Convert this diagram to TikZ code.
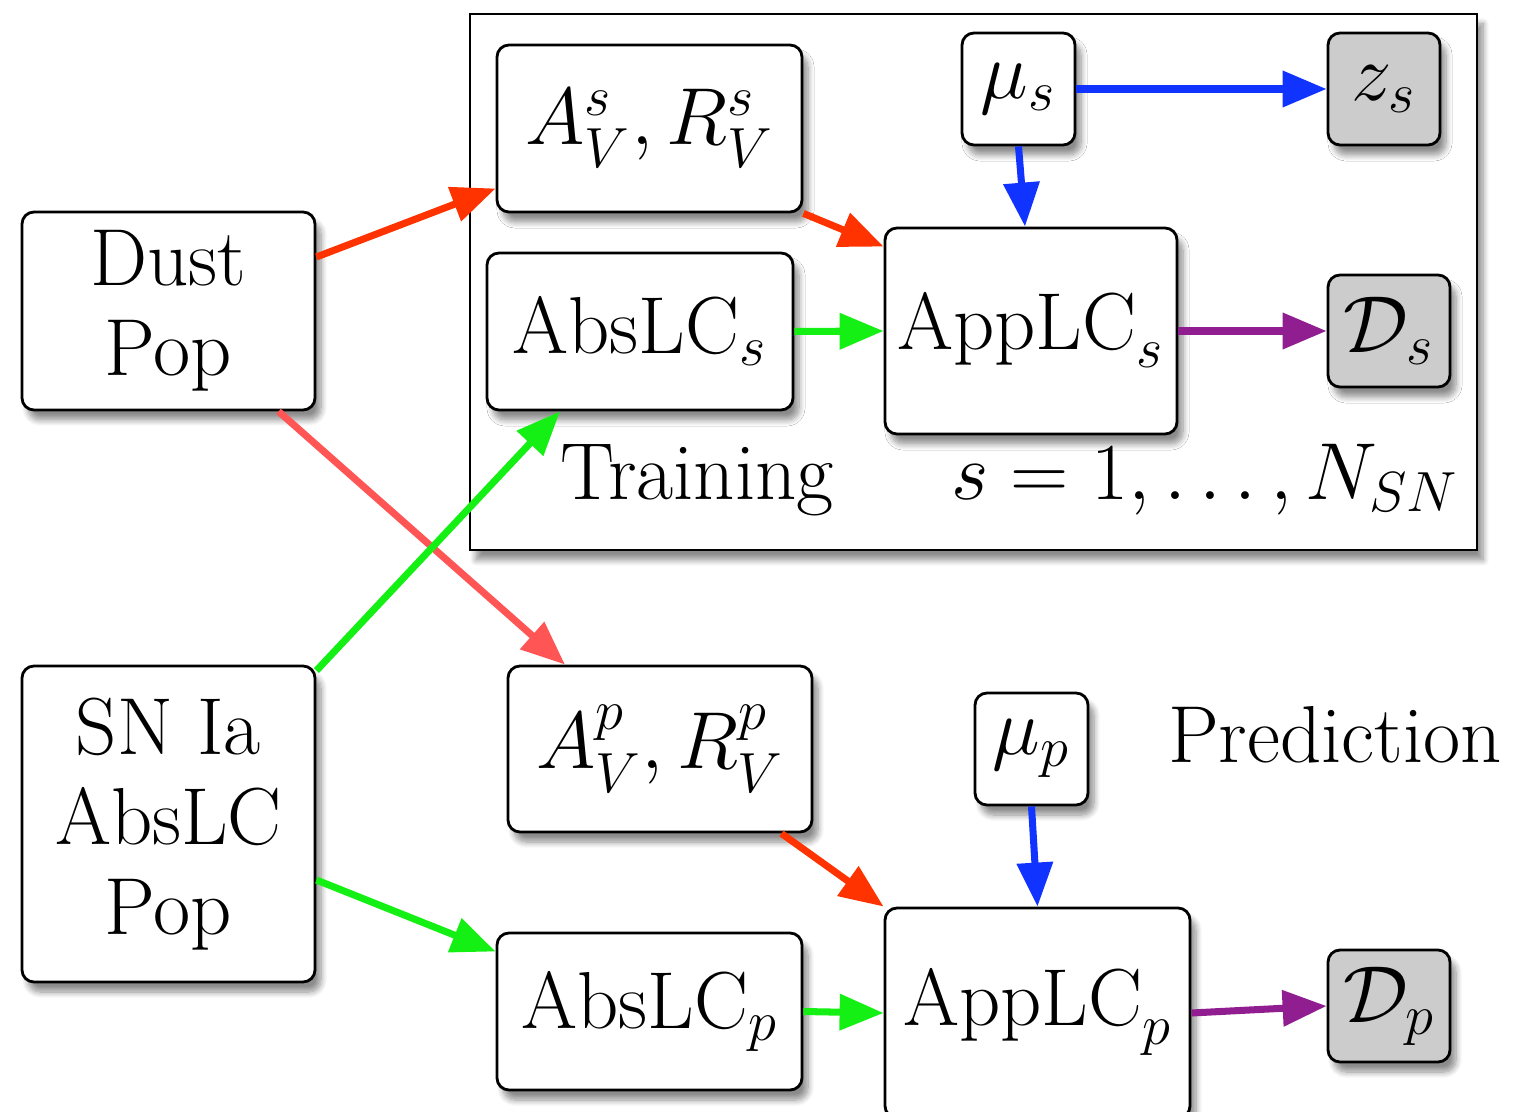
\RequirePackage{fix-cm}
\documentclass[tikz,border=0pt]{standalone}
\usepackage{amsmath}
\usepackage{amssymb}
\usepackage[dvipsnames]{xcolor}
\usepackage{tikz}
\usetikzlibrary{arrows.meta,shadows.blur}
\definecolor{dustred}{RGB}{255,51,0}
\definecolor{lightred}{RGB}{255,85,85}
\definecolor{lcgreen}{RGB}{20,240,20}
\definecolor{mublue}{RGB}{17,51,255}
\definecolor{obspurple}{RGB}{145,30,145}
\tikzset{box/.style={draw, fill=white, rounded corners=1.2mm, line width=0.8pt, align=center, inner sep=0pt, blur shadow={shadow xshift=0.6mm, shadow yshift=-1mm, shadow blur steps=8, shadow opacity=45}},
  datbox/.style={box, fill=black!20},
  link/.style={line width=2pt, -{Triangle[length=4.4mm, width=3.5mm]}}}

\begin{document}
\begin{tikzpicture}[font=\fontsize{23}{25.5}\selectfont]
      \useasboundingbox (0,0) rectangle (15.31,11.11);
      % training plate
      \node [draw, fill=white, line width=0.8pt, minimum width=10.07cm, minimum height=5.36cm, inner sep=0pt, blur shadow={shadow xshift=0.6mm, shadow yshift=-1mm, shadow blur steps=8, shadow opacity=45}] (plate) at (9.735,8.29) {};
      \node [box, minimum width=2.93cm, minimum height=1.98cm] (dust) at (1.685,8.00) {Dust\\Pop};
      \node [box, minimum width=2.93cm, minimum height=3.16cm] (sn) at (1.685,2.87) {SN Ia\\AbsLC\\Pop};
      \node [box, minimum width=3.05cm, minimum height=1.67cm] (avs) at (6.495,9.825) {$A_V^s, R_V^s$};
      \node [box, minimum width=3.06cm, minimum height=1.57cm] (abss) at (6.40,7.795) {$\mathrm{AbsLC}_s$};
      \node [box, minimum width=1.13cm, minimum height=1.12cm] (mus) at (10.185,10.22) {$\mu_s$};
      \node [datbox, minimum width=1.12cm, minimum height=1.12cm] (zs) at (13.84,10.22) {$z_s$};
      \node [box, minimum width=2.92cm, minimum height=2.06cm] (apps) at (10.31,7.80) {$\mathrm{AppLC}_s$};
      \node [datbox, minimum width=1.22cm, minimum height=1.12cm] (ds) at (13.89,7.80) {$\mathcal{D}_s$};
      \node (train) at (6.97,6.31) {Training};
      \node (range) at (12.05,6.31) {$s = 1, \ldots, N_{SN}$};
      \node [box, minimum width=3.04cm, minimum height=1.66cm] (avp) at (6.60,3.62) {$A_V^p, R_V^p$};
      \node [box, minimum width=1.13cm, minimum height=1.12cm] (mup) at (10.315,3.62) {$\mu_p$};
      \node (pred) at (13.35,3.76) {Prediction};
      \node [box, minimum width=3.05cm, minimum height=1.57cm] (absp) at (6.495,0.995) {$\mathrm{AbsLC}_p$};
      \node [box, minimum width=3.05cm, minimum height=2.10cm] (appp) at (10.375,0.98) {$\mathrm{AppLC}_p$};
      \node [datbox, minimum width=1.22cm, minimum height=1.12cm] (dp) at (13.89,1.05) {$\mathcal{D}_p$};
      % dust links
      \draw [link, dustred] ([yshift=5.4mm]dust.east) -- ([yshift=-6mm]avs.west);
      \draw [link, dustred] (avs.south east) -- ([yshift=-2mm]apps.north west);
      \draw [link, lightred] ([xshift=11mm]dust.south) -- ([xshift=-9.5mm]avp.north);
      \draw [link, dustred] ([xshift=-3.2mm]avp.south east) -- (appp.north west);
      % light curve links
      \draw [link, lcgreen] ([yshift=-0.6mm]sn.north east) -- ([xshift=-8mm]abss.south);
      \draw [link, lcgreen] ([yshift=-5.6mm]sn.east) -- ([yshift=6mm]absp.west);
      \draw [link, lcgreen] (abss.east) -- (apps.west);
      \draw [link, lcgreen] (absp.east) -- (appp.west);
      % distance links
      \draw [link, mublue] (mus.east) -- (zs.west);
      \draw [link, mublue] (mus.south) -- ([xshift=-0.6mm]apps.north);
      \draw [link, mublue] (mup.south) -- (appp.north);
      % observations
      \draw [link, obspurple] (apps.east) -- (ds.west);
      \draw [link, obspurple] (appp.east) -- (dp.west);
    \end{tikzpicture}
\end{document}
